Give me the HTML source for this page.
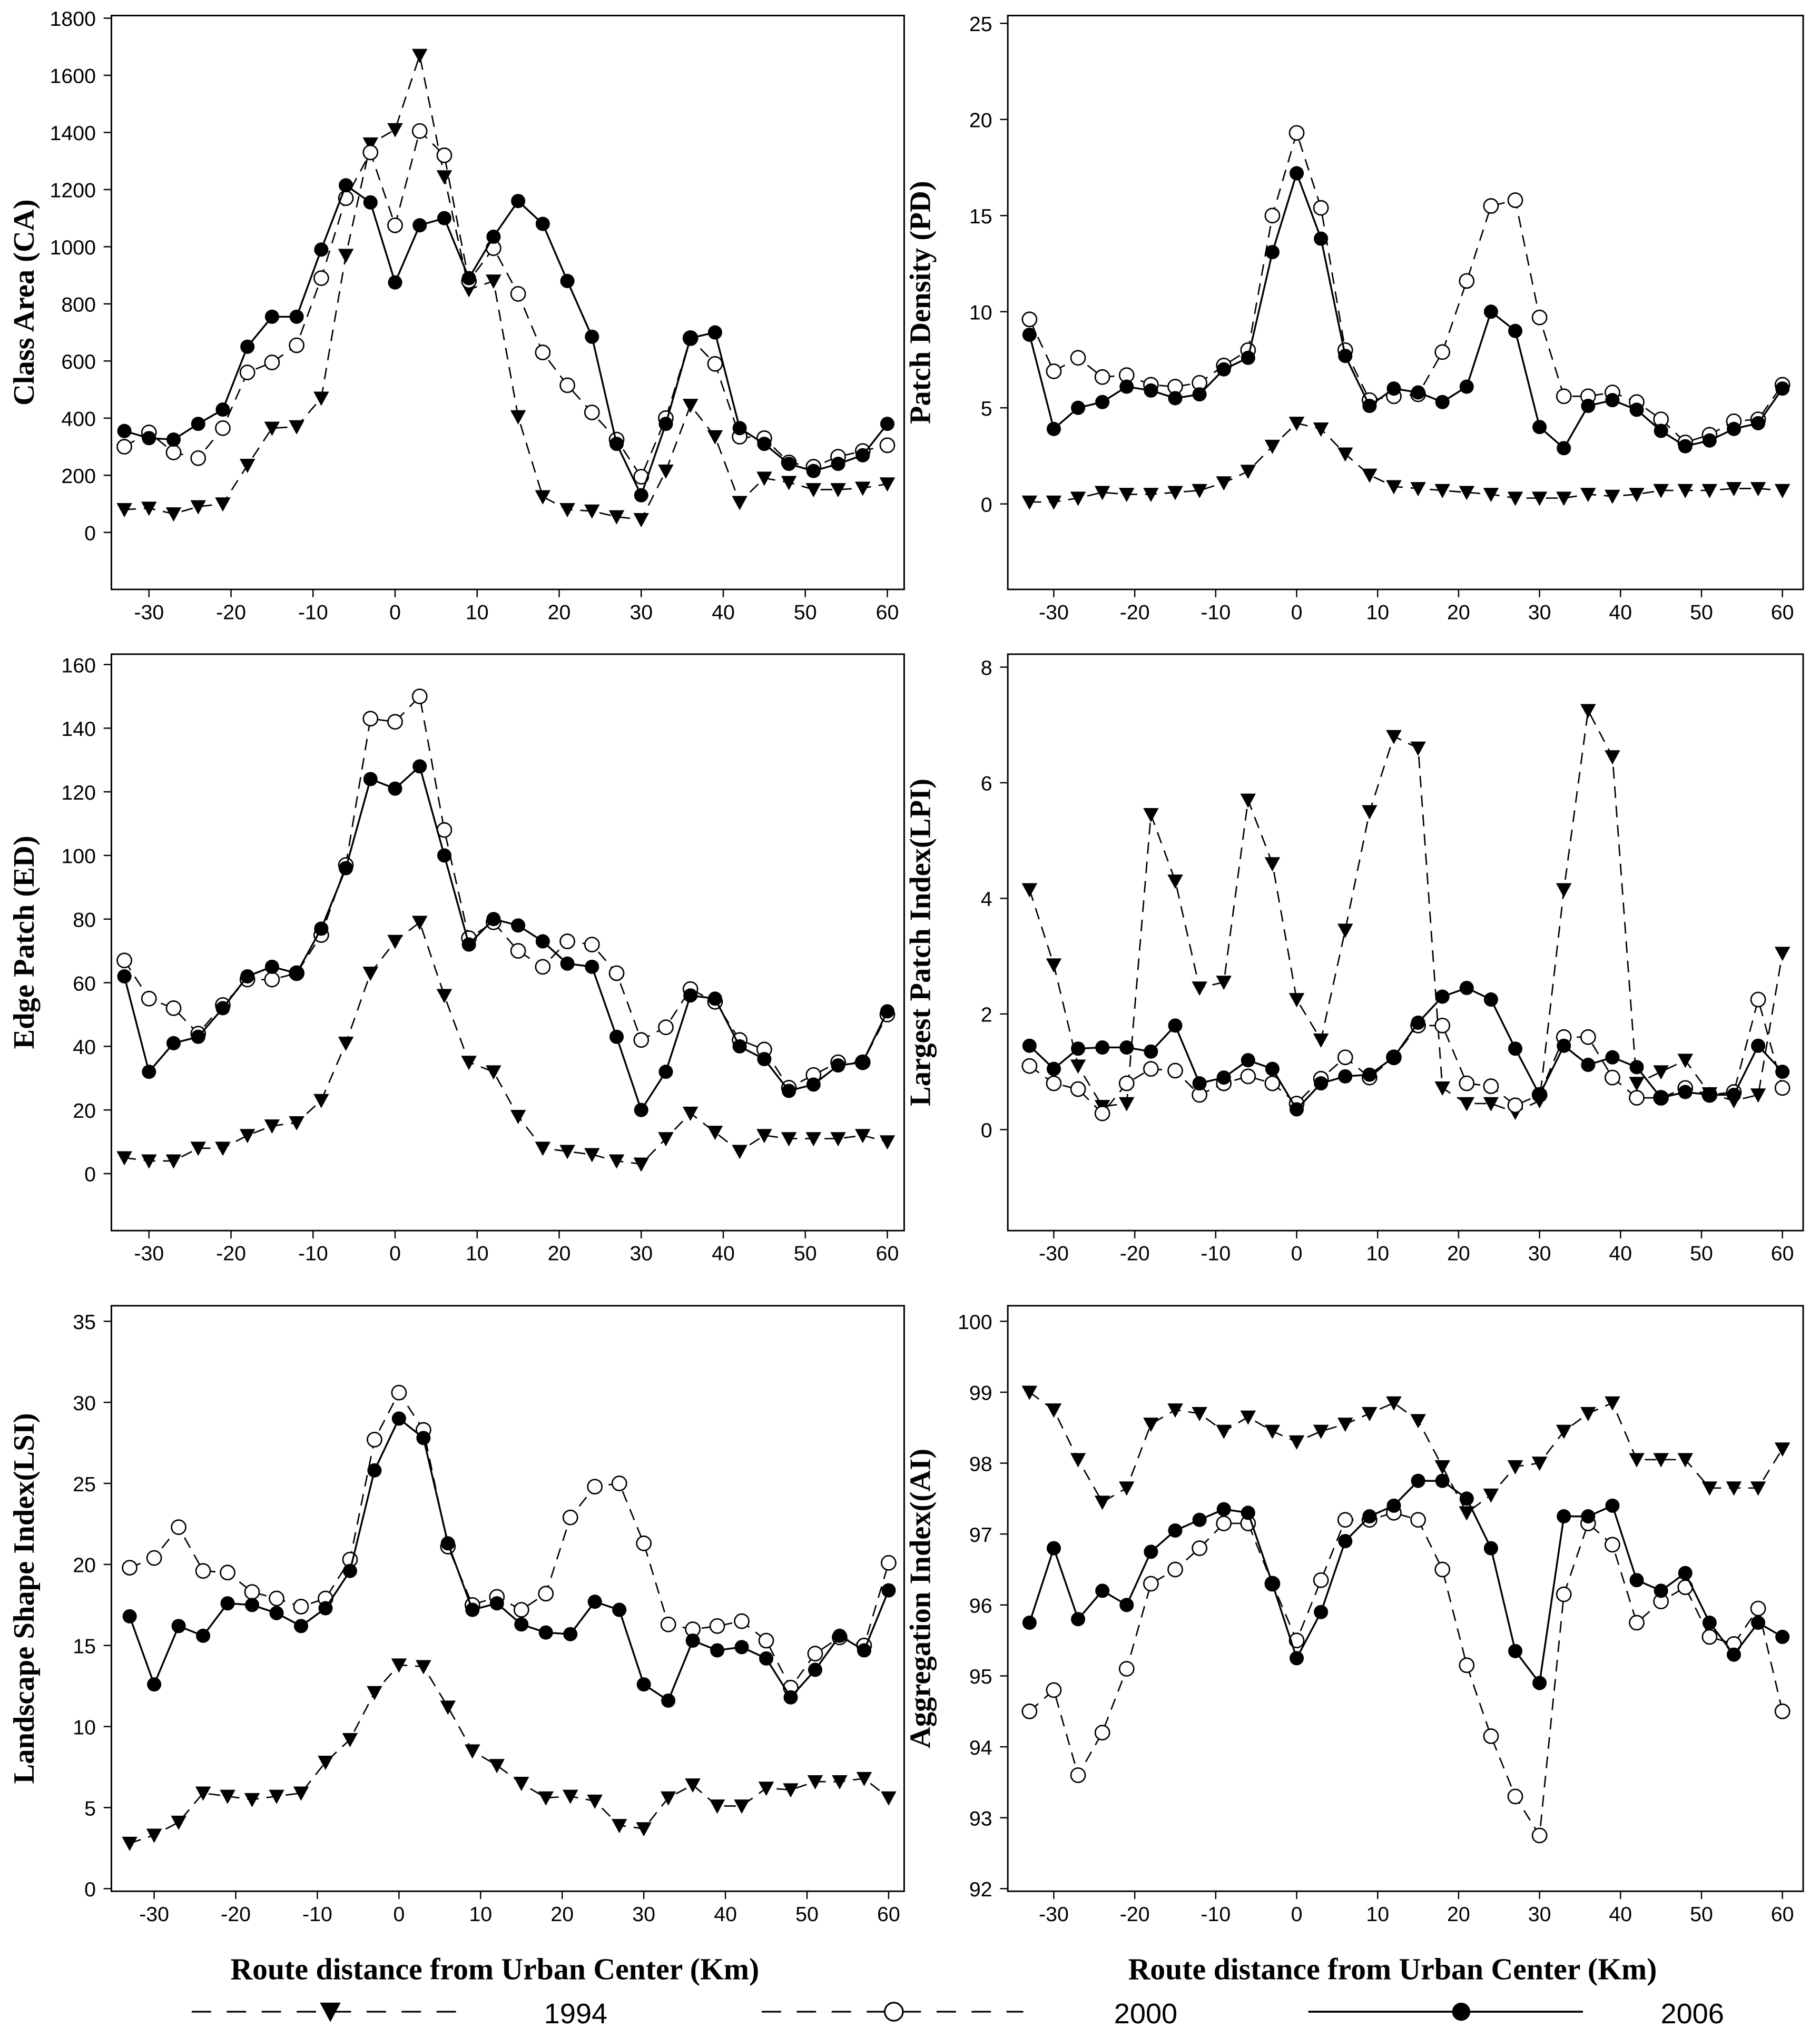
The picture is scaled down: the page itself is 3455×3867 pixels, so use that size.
<!DOCTYPE html>
<html><head><meta charset="utf-8"><style>
html,body{margin:0;padding:0;background:#fff}
svg{display:block}
text{font-family:"Liberation Sans",sans-serif}
.st{font-family:"Liberation Serif",serif;font-weight:bold}
</style></head><body>
<svg id="chart" width="3455" height="3867" viewBox="0 0 1405 1572.5" xmlns="http://www.w3.org/2000/svg">
<rect width="1405" height="1572.5" fill="#fff"/>
<g id="root"></g>
<text class="st" x="382" y="1528" font-size="23.5" text-anchor="middle">Route distance from Urban Center (Km)</text>
<text class="st" x="1075" y="1528" font-size="23.5" text-anchor="middle">Route distance from Urban Center (Km)</text>
<g>
<g>
<line x1="148" y1="1553" x2="362" y2="1553" stroke="#000" stroke-width="1.3" stroke-dasharray="15,12"/>
<path d="M247,1546 L263,1546 L255,1561 Z" fill="#000"/>
<text x="420" y="1562" font-size="22">1994</text></g>
<g>
<line x1="588" y1="1553" x2="790" y2="1553" stroke="#000" stroke-width="1.3" stroke-dasharray="15,12"/>
<circle cx="690" cy="1553" r="7" fill="#fff" stroke="#000" stroke-width="1.3"/>
<text x="860" y="1562" font-size="22">2000</text></g>
<g>
<line x1="1010" y1="1553" x2="1222" y2="1553" stroke="#000" stroke-width="1.5"/>
<circle cx="1128" cy="1553" r="7" fill="#000"/>
<text x="1282" y="1562" font-size="22">2006</text></g>
</g>
</svg>
<script>
const xs=[-33,-30,-27,-24,-21,-18,-15,-12,-9,-6,-3,0,3,6,9,12,15,18,21,24,27,30,33,36,39,42,45,48,51,54,57,60];
const xTicks=[-30,-20,-10,0,10,20,30,40,50,60];
const caTicks=[0,200,400,600,800,1000,1200,1400,1600,1800];
const ca2006=[355,330,325,380,430,650,755,755,990,1215,1155,875,1075,1100,890,1035,1160,1080,880,685,310,130,380,680,700,365,310,240,215,240,270,380];
const ca2000=[300,350,280,260,365,560,595,655,890,1170,1330,1075,1405,1320,880,995,835,630,515,420,325,195,400,680,590,335,330,245,230,265,285,305];
const ca1994=[80,85,65,90,100,235,365,370,470,970,1360,1410,1670,1245,850,880,405,125,80,75,55,45,215,445,335,105,190,175,150,150,155,170];
const pdTicks=[0,5,10,15,20,25];
const pd2006=[8.8,3.9,5.0,5.3,6.1,5.9,5.5,5.7,7.0,7.6,13.1,17.2,13.8,7.7,5.1,6.0,5.8,5.3,6.1,10.0,9.0,4.0,2.9,5.1,5.4,4.9,3.8,3.0,3.3,3.9,4.2,6.0];
const pd2000=[9.6,6.9,7.6,6.6,6.7,6.2,6.1,6.3,7.2,8.0,15.0,19.3,15.4,8.0,5.4,5.6,5.7,7.9,11.6,15.5,15.8,9.7,5.6,5.6,5.8,5.3,4.4,3.2,3.6,4.3,4.4,6.2];
const pd1994=[0.1,0.1,0.3,0.6,0.5,0.5,0.6,0.7,1.1,1.7,3.0,4.2,3.9,2.6,1.5,0.9,0.8,0.7,0.6,0.5,0.3,0.3,0.3,0.5,0.4,0.5,0.7,0.7,0.7,0.8,0.8,0.7];
const edTicks=[0,20,40,60,80,100,120,140,160];
const ed2006=[62,32,41,43,52,62,65,63,77,96,124,121,128,100,72,80,78,73,66,65,43,20,32,56,55,40,36,26,28,34,35,51];
const ed2000=[67,55,52,44,53,61,61,63,75,97,143,142,150,108,74,79,70,65,73,72,63,42,46,58,54,42,39,27,31,35,35,50];
const ed1994=[5,4,4,8,8,12,15,16,23,41,63,73,79,56,35,32,18,8,7,6,4,3,11,19,13,7,12,11,11,11,12,10];
const lpiTicks=[0,2,4,6,8];
const lpi2006=[1.45,1.05,1.4,1.42,1.42,1.35,1.8,0.8,0.9,1.2,1.05,0.35,0.8,0.92,0.95,1.25,1.85,2.3,2.45,2.25,1.4,0.6,1.45,1.12,1.25,1.08,0.55,0.65,0.6,0.6,1.45,1.0];
const lpi2000=[1.1,0.8,0.7,0.28,0.8,1.05,1.02,0.6,0.8,0.92,0.8,0.45,0.88,1.25,0.9,1.25,1.8,1.8,0.8,0.75,0.42,0.6,1.6,1.6,0.9,0.55,0.55,0.72,0.6,0.65,2.25,0.72];
const lpi1994=[4.15,2.85,1.1,0.4,0.45,5.45,4.3,2.45,2.55,5.7,4.6,2.25,1.55,3.45,5.5,6.8,6.6,0.72,0.45,0.45,0.3,0.5,4.15,7.25,6.45,0.8,1.0,1.2,0.62,0.5,0.6,3.05];
const lsiTicks=[0,5,10,15,20,25,30,35];
const lsi2006=[16.8,12.6,16.2,15.6,17.6,17.5,17.0,16.2,17.3,19.6,25.8,29.0,27.8,21.3,17.2,17.6,16.3,15.8,15.7,17.7,17.2,12.6,11.6,15.3,14.7,14.9,14.2,11.8,13.5,15.6,14.7,18.4];
const lsi2000=[19.8,20.4,22.3,19.6,19.5,18.3,17.9,17.4,17.9,20.3,27.7,30.6,28.3,21.1,17.5,18.0,17.2,18.2,22.9,24.8,25.0,21.3,16.3,16.0,16.2,16.5,15.3,12.4,14.5,15.5,15.0,20.1];
const lsi1994=[2.8,3.3,4.1,5.9,5.7,5.5,5.7,5.9,7.8,9.2,12.1,13.8,13.7,11.2,8.5,7.6,6.5,5.6,5.7,5.4,3.9,3.7,5.6,6.4,5.1,5.1,6.2,6.1,6.6,6.6,6.8,5.6];
const aiTicks=[92,93,94,95,96,97,98,99,100];
const ai2006=[95.75,96.8,95.8,96.2,96.0,96.75,97.05,97.2,97.35,97.3,96.3,95.25,95.9,96.9,97.25,97.4,97.75,97.75,97.5,96.8,95.35,94.9,97.25,97.25,97.4,96.35,96.2,96.45,95.75,95.3,95.75,95.55];
const ai2000=[94.5,94.8,93.6,94.2,95.1,96.3,96.5,96.8,97.15,97.15,96.3,95.5,96.35,97.2,97.2,97.3,97.2,96.5,95.15,94.15,93.3,92.75,96.15,97.15,96.85,95.75,96.05,96.25,95.55,95.45,95.95,94.5];
const ai1994=[99.0,98.75,98.05,97.45,97.65,98.55,98.75,98.7,98.45,98.65,98.45,98.3,98.45,98.55,98.7,98.85,98.6,97.95,97.3,97.55,97.95,98.0,98.45,98.7,98.85,98.05,98.05,98.05,97.65,97.65,97.65,98.2];

const NS='http://www.w3.org/2000/svg';
const root=document.getElementById('root');
function mk(tag,attrs,parent){const e=document.createElementNS(NS,tag);for(const k in attrs)e.setAttribute(k,attrs[k]);parent.appendChild(e);return e;}

const panels=[
 {name:'class-area',label:'Class Area  (CA)',x0:86,x1:698,y0:12,y1:455,xa:305,xb:685,ya:{v:0,p:411},yb:{v:1800,p:14},ticks:caTicks,d:[ca1994,ca2000,ca2006]},
 {name:'patch-density',label:'Patch Density (PD)',x0:778,x1:1392,y0:12,y1:455,xa:1001,xb:1376,ya:{v:0,p:389},yb:{v:25,p:18},ticks:pdTicks,d:[pd1994,pd2000,pd2006]},
 {name:'edge-patch',label:'Edge Patch (ED)',x0:86,x1:698,y0:505,y1:950,xa:305,xb:685,ya:{v:0,p:906},yb:{v:160,p:513},ticks:edTicks,d:[ed1994,ed2000,ed2006]},
 {name:'largest-patch-index',label:'Largest Patch Index(LPI)',x0:778,x1:1392,y0:505,y1:950,xa:1001,xb:1376,ya:{v:0,p:872},yb:{v:8,p:515},ticks:lpiTicks,d:[lpi1994,lpi2000,lpi2006]},
 {name:'landscape-shape-index',label:'Landscape Shape Index(LSI)',x0:86,x1:698,y0:1008,y1:1460,xa:308,xb:686,ya:{v:0,p:1458},yb:{v:35,p:1020},ticks:lsiTicks,d:[lsi1994,lsi2000,lsi2006]},
 {name:'aggregation-index',label:'Aggregation Index((AI)',x0:778,x1:1392,y0:1008,y1:1460,xa:1001,xb:1376,ya:{v:92,p:1458},yb:{v:100,p:1020},ticks:aiTicks,d:[ai1994,ai2000,ai2006]}
];
const years=['1994','2000','2006'];
panels.forEach(P=>{
 const g=mk('g',{},root);
 
 
 const X=v=>P.xa+(v/60)*(P.xb-P.xa);
 const Y=v=>P.ya.p+(v-P.ya.v)/(P.yb.v-P.ya.v)*(P.yb.p-P.ya.p);
 const box=mk('rect',{x:P.x0,y:P.y0,width:P.x1-P.x0,height:P.y1-P.y0,fill:'none',stroke:'#000','stroke-width':1.2},g);
 
 
 xTicks.forEach(t=>{
  mk('line',{x1:X(t),x2:X(t),y1:P.y1,y2:P.y1+6,stroke:'#000','stroke-width':1},g);
  const tx=mk('text',{x:X(t),y:P.y1+23,'font-size':16,'text-anchor':'middle'},g);tx.textContent=t;
  
  
 });
 P.ticks.forEach(t=>{
  mk('line',{x1:P.x0-6,x2:P.x0,y1:Y(t),y2:Y(t),stroke:'#000','stroke-width':1},g);
  const tx=mk('text',{x:P.x0-12,y:Y(t)+6,'font-size':16,'text-anchor':'end'},g);tx.textContent=t;
  
  
 });
 const cy=(P.y0+P.y1)/2, lx=P.x0-60;
 const lab=mk('text',{x:lx,y:cy,'font-size':23,'text-anchor':'middle',class:'st',transform:`rotate(-90 ${lx} ${cy})`},g);
 lab.textContent=P.label;
 
 
 P.d.forEach((arr,si)=>{
  const sg=mk('g',{},g);
  
  
  const pts=arr.map((v,i)=>X(xs[i]).toFixed(1)+','+Y(v).toFixed(1)).join(' ');
  const pl=mk('polyline',{points:pts,fill:'none',stroke:'#000','stroke-width':si==2?1.4:1.1},sg);
  if(si<2)pl.setAttribute('stroke-dasharray','9,6');
  arr.forEach((v,i)=>{
   const cx=X(xs[i]),yy=Y(v);let m;
   if(si==0)m=mk('path',{d:`M${cx-6},${yy-5} L${cx+6},${yy-5} L${cx},${yy+6} Z`,fill:'#000'},sg);
   else if(si==1)m=mk('circle',{cx:cx,cy:yy,r:5.5,fill:'#fff',stroke:'#000','stroke-width':1.1},sg);
   else m=mk('circle',{cx:cx,cy:yy,r:5.5,fill:'#000'},sg);
   
   
  });
 });
});
</script>
</body></html>
